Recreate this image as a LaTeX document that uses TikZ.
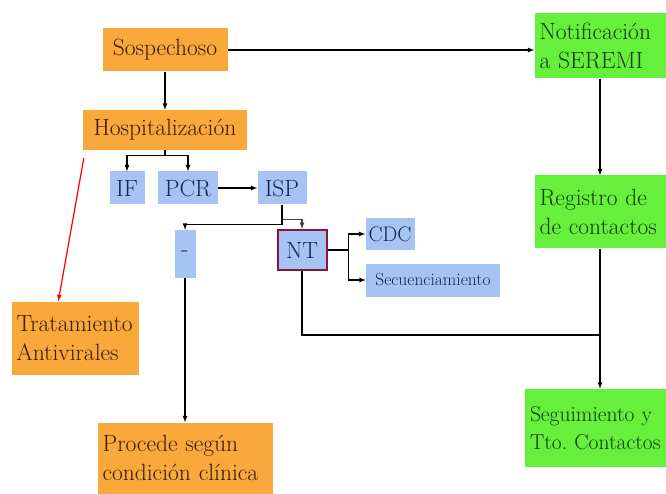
\documentclass[tikz,border=0pt]{standalone}
\usepackage{fontspec}
\usetikzlibrary{calc}
\definecolor{naranja}{HTML}{F9A83C}
\definecolor{celeste}{HTML}{A6C3F3}
\definecolor{verdeclaro}{HTML}{66F03C}
\definecolor{textonar}{HTML}{3A1A05}
\definecolor{textoazul}{HTML}{1A2352}
\definecolor{textoverde}{HTML}{0C3A06}
\definecolor{borde}{HTML}{8B1538}
\tikzset{
  caja/.style={inner sep=0pt, font=\fontsize{23.5}{29}\selectfont\frenchspacing},
  nar/.style={caja, fill=naranja, text=textonar},
  azul/.style={caja, fill=celeste, text=textoazul},
  verde/.style={caja, fill=verdeclaro, text=textoverde},
  flecha/.style={line width=1.2pt, ->}
}
\newcommand{\caja}[7]{\node[#2, minimum width=#5pt, minimum height=#6pt] (#1) at (#3,#4) {#7};}
\newcommand{\cajatexto}[7]{\node[#2, minimum width=#5pt, minimum height=#6pt, inner xsep=5pt, text width=#5pt-10pt, align=left] (#1) at (#3,#4) {#7};}

\begin{document}
\begin{tikzpicture}[x=1pt,y=-1pt,>=latex]
    \useasboundingbox (0,0) rectangle (666,494);
    \caja{sosp}{nar}{165}{50}{125}{43}{Sospechoso}
    \caja{hosp}{nar}{165}{130}{164}{40}{Hospitalización}
    \caja{if}{azul}{127}{188}{35}{33}{IF}    \caja{pcr}{azul}{188}{188}{60}{33}{PCR}
    \caja{isp}{azul}{282}{188}{49}{33}{ISP}  \caja{menos}{azul}{185}{254}{21}{48}{-}
    \caja{nt}{azul,draw=borde,line width=2pt}{302}{250}{49}{40}{NT}
    \caja{cdc}{azul,font=\fontsize{21}{24}\selectfont}{390}{234}{49}{32}{CDC}
    \caja{sec}{azul,font=\fontsize{17.5}{20}\selectfont}{433}{280}{134}{33}{Secuenciamiento}
    \cajatexto{trat}{nar}{75}{338}{127}{73}{Tratamiento\\Antivirales}
    \cajatexto{proc}{nar}{185}{458}{175}{71}{Procede según\\condición clínica}
    \cajatexto{notif}{verde}{600}{46}{131}{65}{Notificación\\a SEREMI}
    \cajatexto{reg}{verde}{600}{212}{131}{73}{Registro de\\de contactos}
    \cajatexto{seg}{verde,font=\fontsize{21.5}{28}\selectfont\frenchspacing}{610}{428}{170}{78}{Seguimiento y\\Tto. Contactos}
    \coordinate (junta) at (600,335);
    \draw[flecha] (sosp.east) -- (sosp.east -| notif.west);
    \draw[flecha] (sosp) -- (hosp);
    \draw[flecha] (hosp.south) -- ++(0,5) -| (if.north);
    \draw[flecha] (hosp.south) -- ++(0,5) -| (pcr.north);
    \draw[flecha] (pcr) -- (isp);
    \draw[flecha] (isp.south) -- ++(0,20) -| (menos.north);
    \draw[flecha,darkgray] (isp.south) ++(0,15) -| (nt.north);
    \draw[flecha] (nt.east) -- ++(21,0) |- (cdc.west);
    \draw[flecha] (nt.east) -- ++(21,0) |- (sec.west);
    \draw[line width=1.2pt] (nt.south) |- (junta);
    \draw[flecha] (notif) -- (reg);
    \draw[flecha] (reg) -- (seg.north -| reg.south);
    \draw[flecha] (menos) -- (proc);
    \draw[flecha,red] ($(hosp.south west)+(1,8)$) -- ($(trat.north west)+(47,0)$);
\end{tikzpicture}
\end{document}
